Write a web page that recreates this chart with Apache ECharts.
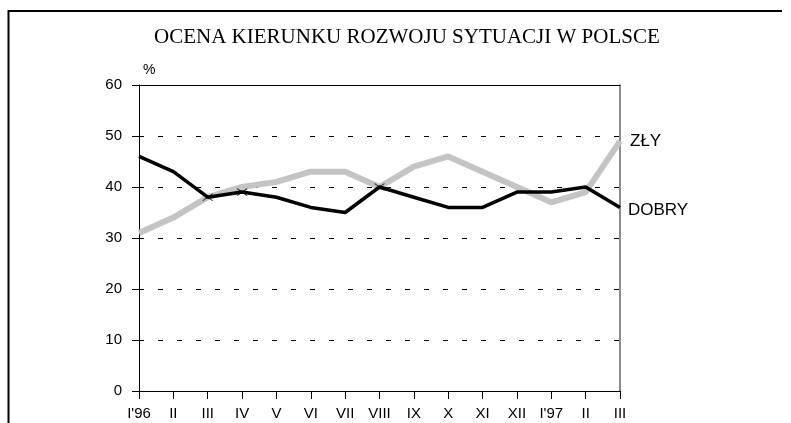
<!DOCTYPE html>
<html>
<head>
<meta charset="utf-8">
<script src="https://cdn.jsdelivr.net/npm/echarts@6/dist/echarts.min.js"></script>
<style>
  html, body { margin: 0; padding: 0; background: #fff; }
  #main { width: 791px; height: 423px; }
</style>
</head>
<body>
<div id="main"></div>
<script>
var months = ["I'96", 'II', 'III', 'IV', 'V', 'VI', 'VII', 'VIII', 'IX', 'X', 'XI', 'XII', "I'97", 'II', 'III'];
var zly = [31, 34, 38, 40, 41, 43, 43, 40, 44, 46, 43, 40, 37, 39, 49];
var dobry = [46, 43, 38, 39, 38, 36, 35, 40, 38, 36, 36, 39, 39, 40, 36];
// months where the lines cross, marked with a small x
var crossIdx = [2, 3, 7];
var yTicks = [0, 10, 20, 30, 40, 50, 60];

var chartDom = document.getElementById('main');
var myChart = echarts.init(chartDom);

var font = 'Arial, "Liberation Sans", sans-serif';

var option = {
  animation: false,
  backgroundColor: '#fff',
  title: {
    text: 'OCENA KIERUNKU ROZWOJU SYTUACJI W POLSCE',
    left: 149,
    top: 22,
    textStyle: {
      fontFamily: '"Times New Roman", "Liberation Serif", serif',
      fontSize: 21,
      fontWeight: 'normal',
      color: '#000'
    }
  },
  grid: { left: 139, right: 171, top: 85, bottom: 32 },
  graphic: [
    { type: 'line', shape: { x1: 8, y1: 11, x2: 782, y2: 11 }, style: { stroke: '#000', lineWidth: 2 } },
    { type: 'line', shape: { x1: 8.5, y1: 10, x2: 8.5, y2: 423 }, style: { stroke: '#000', lineWidth: 2 } },
    { type: 'text', left: 143, top: 63, style: { text: '%', font: '14px ' + font, fill: '#000' } }
  ],
  xAxis: [
    {
      type: 'category',
      data: months,
      boundaryGap: false,
      axisLine: { lineStyle: { color: '#000', width: 1 } },
      axisTick: { alignWithLabel: true, length: 8, lineStyle: { color: '#000' } },
      axisLabel: { interval: 0, margin: 15, fontSize: 15, fontFamily: font, color: '#000' },
      splitLine: { show: false }
    },
    {
      type: 'category',
      data: months,
      position: 'top',
      boundaryGap: false,
      axisLine: { onZero: false, lineStyle: { color: '#000', width: 1 } },
      axisTick: { show: false },
      axisLabel: { show: false }
    }
  ],
  yAxis: [
    {
      type: 'value',
      min: yTicks[0],
      max: yTicks[yTicks.length - 1],
      interval: 10,
      axisLine: { show: true, lineStyle: { color: '#000', width: 1 } },
      axisTick: { show: true, length: 7, lineStyle: { color: '#000' } },
      axisLabel: { margin: 17, fontSize: 15, fontFamily: font, color: '#000' },
      splitLine: { show: true, lineStyle: { color: '#000', type: [5, 14], width: 1 } }
    },
    {
      type: 'value',
      position: 'right',
      min: yTicks[0],
      max: yTicks[yTicks.length - 1],
      interval: 10,
      axisLine: { show: true, onZero: false, lineStyle: { color: '#666', width: 1.5 } },
      axisTick: { show: false },
      axisLabel: { show: false },
      splitLine: { show: false }
    }
  ],
  series: [
    {
      name: 'ZŁY',
      type: 'line',
      data: zly,
      symbol: 'none',
      z: 2,
      lineStyle: { color: '#c4c4c4', width: 6 },
      endLabel: {
        show: true,
        formatter: '{a}',
        distance: 10,
        fontSize: 17,
        fontFamily: font,
        color: '#000'
      }
    },
    {
      name: 'DOBRY',
      type: 'line',
      data: dobry,
      symbol: 'none',
      z: 3,
      lineStyle: { color: '#000', width: 3.5 },
      endLabel: {
        show: true,
        formatter: '{a}',
        distance: 8,
        offset: [0, 3],
        fontSize: 17,
        fontFamily: font,
        color: '#000'
      }
    },
    {
      name: 'cross',
      type: 'scatter',
      data: crossIdx.map(function (i) { return [i, dobry[i]]; }),
      symbol: 'path://M0,0 L10,8 M10,0 L0,8',
      symbolSize: [10, 7],
      z: 4,
      itemStyle: { color: 'none', borderColor: '#000', borderWidth: 1 }
    }
  ]
};

option && myChart.setOption(option);
</script>
</body>
</html>
